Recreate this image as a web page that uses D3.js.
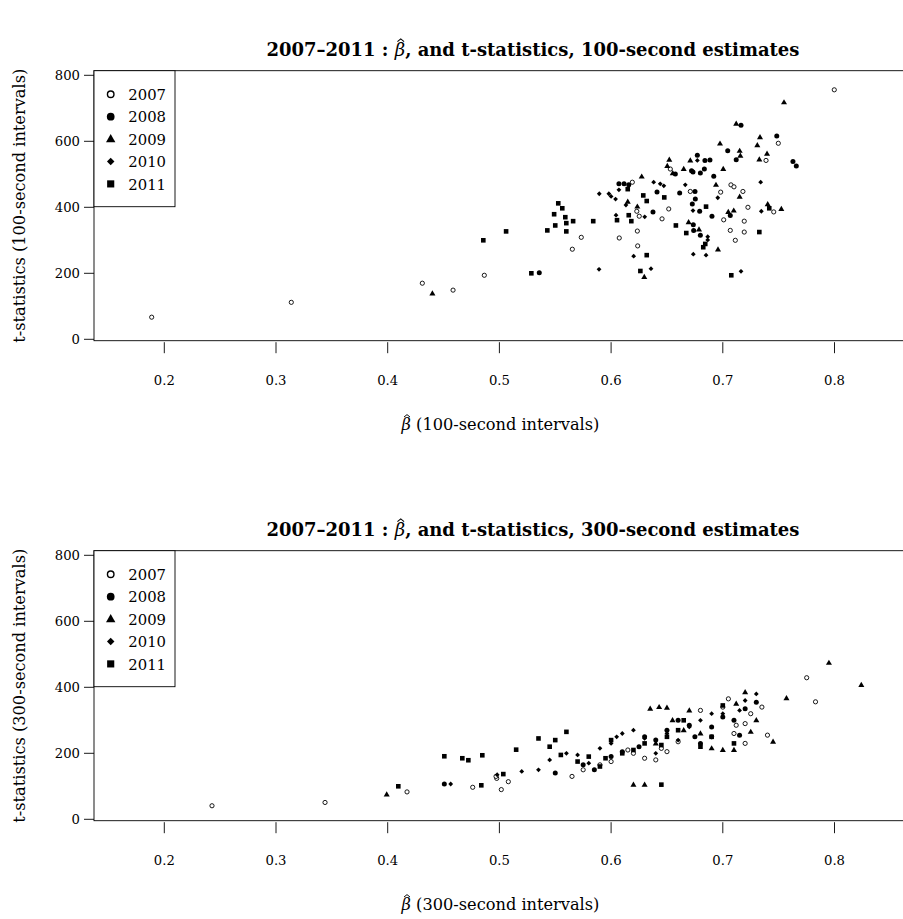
<!DOCTYPE html>
<html>
<head>
<meta charset="utf-8">
<script src="https://cdn.jsdelivr.net/npm/d3@7/dist/d3.min.js"></script>
<style>
body { margin: 0; background: white; }
text { font-family: "DejaVu Serif", "Liberation Serif", serif; fill: black; }
</style>
</head>
<body>
<script>
// tick values
var xTicks = [0.2, 0.3, 0.4, 0.5, 0.6, 0.7, 0.8]
var yTicks = [0, 200, 400, 600, 800]
var years = ["2007", "2008", "2009", "2010", "2011"]

// 100-second estimates: [beta, t]
var p100_2007 = [[0.1887,67],[0.3137,112],[0.431,170],[0.4585,149],[0.4865,194],[0.5733,309],[0.5653,273],[0.619,476],[0.623,388],[0.6252,373],[0.6235,328],[0.6073,307],[0.6238,283],[0.653,516],[0.7073,468],[0.71,462],[0.6981,446],[0.718,448],[0.6709,448],[0.7225,400],[0.7456,386],[0.6516,395],[0.7008,362],[0.7192,358],[0.6456,365],[0.7067,330],[0.7192,325],[0.7112,300],[0.7998,756],[0.7497,594],[0.7387,542]]
var p100_2008 = [[0.5357,202],[0.607,471],[0.6116,471],[0.6158,468],[0.6772,558],[0.684,542],[0.6885,543],[0.7044,571],[0.712,544],[0.7628,539],[0.7658,525],[0.6575,501],[0.6733,507],[0.6799,504],[0.6835,516],[0.6919,494],[0.6614,443],[0.6751,448],[0.6411,446],[0.6754,425],[0.6727,410],[0.6375,386],[0.6793,388],[0.7067,375],[0.6903,373],[0.6736,347],[0.6739,330],[0.6799,315],[0.7163,649],[0.7483,616],[0.672,511]]
var p100_2009 = [[0.44,139],[0.6274,493],[0.6149,417],[0.6235,402],[0.6297,189],[0.6521,544],[0.6709,542],[0.7151,571],[0.7157,556],[0.7327,545],[0.7396,562],[0.6503,525],[0.6552,503],[0.665,516],[0.7004,516],[0.6939,468],[0.7151,432],[0.7402,409],[0.7524,395],[0.7049,386],[0.7098,390],[0.6694,355],[0.6787,333],[0.6957,272],[0.7548,718],[0.712,653],[0.7333,612],[0.7309,588],[0.6975,593]]
var p100_2010 = [[0.5894,441],[0.598,441],[0.6,433],[0.604,425],[0.607,453],[0.6133,407],[0.6301,371],[0.6044,376],[0.6202,252],[0.5892,212],[0.6772,542],[0.6381,476],[0.644,471],[0.6472,465],[0.6664,468],[0.7339,476],[0.6955,429],[0.6733,390],[0.7345,388],[0.6865,311],[0.6865,301],[0.6736,258],[0.685,255],[0.6357,214],[0.7163,206]]
var p100_2011 = [[0.4856,300],[0.506,327],[0.5286,200],[0.5527,412],[0.5563,397],[0.549,379],[0.559,370],[0.5599,352],[0.566,358],[0.55,345],[0.5429,330],[0.5599,327],[0.584,358],[0.6149,455],[0.6288,436],[0.6319,419],[0.6053,361],[0.6158,376],[0.6181,358],[0.6319,255],[0.6262,207],[0.6476,430],[0.685,402],[0.7416,397],[0.658,345],[0.6673,322],[0.7327,325],[0.6843,289],[0.6825,279],[0.7076,194]]

// 300-second estimates: [beta, t]
var p300_2007 = [[0.2427,41],[0.3439,51],[0.4173,83],[0.4761,97],[0.4976,124],[0.5017,90],[0.508,114],[0.497,130],[0.565,130],[0.575,150],[0.59,165],[0.6,175],[0.615,210],[0.62,200],[0.63,185],[0.64,180],[0.645,215],[0.65,205],[0.66,235],[0.68,330],[0.69,250],[0.7,340],[0.705,365],[0.71,260],[0.712,285],[0.72,230],[0.72,290],[0.725,320],[0.74,255],[0.735,340],[0.7751,429],[0.783,356]]
var p300_2008 = [[0.4507,107],[0.55,140],[0.575,165],[0.585,150],[0.6,190],[0.61,205],[0.625,220],[0.63,250],[0.64,240],[0.65,270],[0.66,300],[0.67,285],[0.675,250],[0.69,280],[0.7,310],[0.71,300],[0.72,335],[0.715,255],[0.73,355],[0.68,230]]
var p300_2009 = [[0.3991,75],[0.62,105],[0.63,105],[0.635,335],[0.643,340],[0.65,338],[0.655,300],[0.67,330],[0.68,260],[0.69,215],[0.7,210],[0.71,210],[0.712,350],[0.72,385],[0.725,265],[0.73,300],[0.745,235],[0.757,367],[0.795,474],[0.824,407],[0.64,230],[0.665,270]]
var p300_2010 = [[0.4564,107],[0.498,135],[0.52,145],[0.535,150],[0.545,180],[0.56,200],[0.57,195],[0.58,170],[0.59,215],[0.6,230],[0.605,250],[0.61,260],[0.62,270],[0.63,245],[0.64,200],[0.65,260],[0.66,240],[0.67,280],[0.68,300],[0.69,320],[0.7,320],[0.72,360],[0.73,380],[0.715,330]]
var p300_2011 = [[0.4095,100],[0.4507,191],[0.4668,185],[0.4722,179],[0.4847,194],[0.4838,103],[0.5035,137],[0.515,211],[0.535,245],[0.545,220],[0.55,240],[0.56,265],[0.555,195],[0.57,175],[0.58,190],[0.59,160],[0.595,185],[0.6,240],[0.61,200],[0.62,210],[0.63,230],[0.645,105],[0.645,225],[0.65,250],[0.66,270],[0.665,300],[0.68,220],[0.69,250],[0.7,345],[0.71,230]]

var panels = [
	{ label: "100", top: 0, data: [p100_2007, p100_2008, p100_2009, p100_2010, p100_2011] },
	{ label: "300", top: 480, data: [p300_2007, p300_2008, p300_2009, p300_2010, p300_2011] }
]

var svg = d3.select("body").append("svg")
	.attr("width", 903).attr("height", 919)
	.style("background", "white")

var x = d3.scaleLinear().domain([0.2, 0.8]).range([164.3, 834.5])

// draw one symbol (R pch 1, 16, 17, 18, 15) centred on 0,0
function drawSymbol(g, k, s) {
	if (k == 0) {
		g.append("circle").attr("r", 2.1 * s).attr("fill", "white").attr("stroke", "black").attr("stroke-width", 0.9 * s)
	} else if (k == 1) {
		g.append("circle").attr("r", 2.5 * s).attr("fill", "black")
	} else if (k == 2) {
		var h = 5.2 * s
		g.append("path").attr("d", "M0," + (-h * 0.62) + "L" + (h * 0.58) + "," + (h * 0.38) + "L" + (-h * 0.58) + "," + (h * 0.38) + "Z").attr("fill", "black")
	} else if (k == 3) {
		var d = 2.4 * s
		g.append("path").attr("d", "M0," + (-d) + "L" + d + ",0L0," + d + "L" + (-d) + ",0Z").attr("fill", "black")
	} else {
		var q = 2.3 * s
		g.append("rect").attr("x", -q).attr("y", -q).attr("width", 2 * q).attr("height", 2 * q).attr("fill", "black")
	}
}

// scale the font so the text is as wide as in the picture
function fitWidth(t, w) {
	var fs = +t.attr("font-size")
	var len = t.node().getComputedTextLength()
	t.attr("font-size", fs * w / len)
	return fs * w / len
}

// put a hat over character idx of a horizontal text
function addHat(g, t, idx, fs, baseline) {
	var box = t.node().getExtentOfChar(idx)
	var cx = box.x + box.width * 0.58
	var hw = box.width * 0.32
	g.append("path")
		.attr("d", "M" + (cx - hw) + "," + (baseline - fs * 0.80) + "L" + cx + "," + (baseline - fs * 0.95) + "L" + (cx + hw) + "," + (baseline - fs * 0.80))
		.attr("fill", "none").attr("stroke", "black").attr("stroke-width", fs * 0.06)
}

var labelSize = 14

panels.forEach(function(p) {
	var T = p.top
	var y = d3.scaleLinear().domain([0, 800]).range([339.3 + T, 75.3 + T])
	var g = svg.append("g")

	var boxTop = 70.7 + T, boxBottom = 340.7 + T, boxLeft = 94, boxRight = 972

	// title
	var tb = 56 + T
	var title = g.append("text").attr("x", 533).attr("y", tb)
		.attr("text-anchor", "middle").attr("font-size", 16).attr("font-weight", "bold")
	title.append("tspan").text("2007–2011 : ")
	title.append("tspan").attr("font-style", "italic").attr("font-weight", "normal").text("β")
	title.append("tspan").text(", and t-statistics, " + p.label + "-second estimates")
	var tfs = fitWidth(title, 533)
	addHat(g, title, 12, tfs, tb)

	// box
	g.append("rect").attr("x", boxLeft).attr("y", boxTop)
		.attr("width", boxRight - boxLeft).attr("height", boxBottom - boxTop)
		.attr("fill", "none").attr("stroke", "black").attr("stroke-width", 0.9)

	// x axis
	var xa = g.append("g")
	xTicks.forEach(function(v) {
		xa.append("line").attr("x1", x(v)).attr("x2", x(v)).attr("y1", boxBottom + 1.5).attr("y2", boxBottom + 12.5)
			.attr("stroke", "black").attr("stroke-width", 0.9)
		xa.append("text").attr("x", x(v)).attr("y", 385 + T).attr("text-anchor", "middle")
			.attr("font-size", 13.2).text(v.toFixed(1))
	})
	var xb = 430 + T
	var xl = g.append("text").attr("x", 500.5).attr("y", xb).attr("text-anchor", "middle").attr("font-size", 14)
	xl.append("tspan").attr("font-style", "italic").text("β")
	xl.append("tspan").text(" (" + p.label + "-second intervals)")
	labelSize = fitWidth(xl, 198)
	addHat(g, xl, 0, labelSize, xb)

	// y axis
	yTicks.forEach(function(v) {
		g.append("line").attr("x1", boxLeft - 10).attr("x2", boxLeft).attr("y1", y(v)).attr("y2", y(v))
			.attr("stroke", "black").attr("stroke-width", 0.9)
		g.append("text").attr("x", boxLeft - 14).attr("y", y(v) + 4.8).attr("text-anchor", "end")
			.attr("font-size", 13.2).text(v)
	})
	g.append("text").attr("transform", "translate(25," + ((boxTop + boxBottom) / 2) + ") rotate(-90)")
		.attr("text-anchor", "middle").attr("font-size", labelSize)
		.text("t-statistics (" + p.label + "-second intervals)")

	// points
	p.data.forEach(function(arr, k) {
		arr.forEach(function(d) {
			var s = g.append("g").attr("transform", "translate(" + x(d[0]) + "," + y(d[1]) + ")")
			drawSymbol(s, k, 1)
		})
	})

	// legend
	g.append("rect").attr("x", boxLeft).attr("y", boxTop).attr("width", 81).attr("height", 136)
		.attr("fill", "white").attr("stroke", "black").attr("stroke-width", 0.9)
	years.forEach(function(yr, k) {
		var ly = boxTop + 23.6 + k * 22.4
		var s = g.append("g").attr("transform", "translate(110.7," + ly + ")")
		drawSymbol(s, k, 1.55)
		g.append("text").attr("x", 128.3).attr("y", ly + 5.6).attr("font-size", 14.8).text(yr)
	})
})
</script>
</body>
</html>
